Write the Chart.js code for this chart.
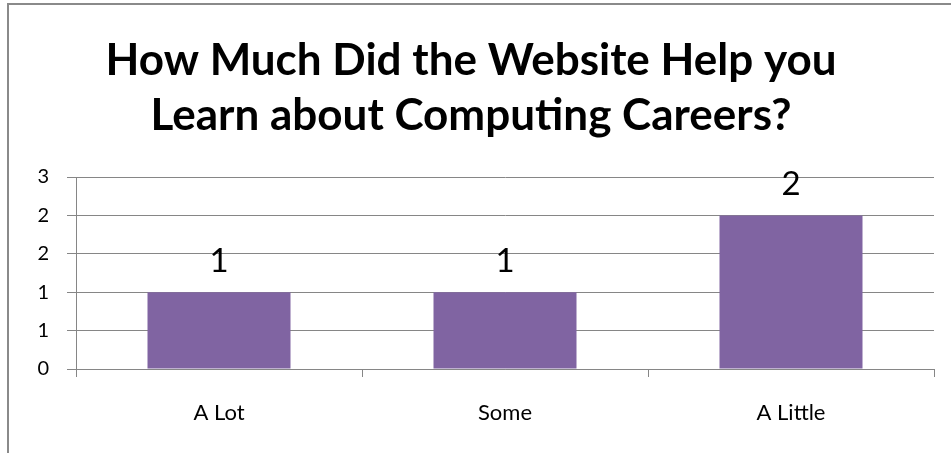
<!DOCTYPE html>
<html>
<head>
<meta charset="utf-8">
<script src="https://cdn.jsdelivr.net/npm/chart.js@4.4.1/dist/chart.umd.min.js"></script>
<style>
    html, body { margin: 0; padding: 0; background: #fff; overflow: hidden; }
    #wrap { position: relative; width: 951px; height: 453px; }
    #frame { position: absolute; left: 7px; top: 3px; width: 960px; height: 470px; border: 2px solid #8a8a8a; box-sizing: border-box; }
    canvas { position: absolute; left: 0; top: 0; }
</style>
</head>
<body>
<div id="wrap">
    <div id="frame"></div>
    <canvas id="myChart" width="951" height="453"></canvas>
</div>
<script>
    "use strict";

    const titleLines = ['How Much Did the Website Help you', 'Learn about Computing Careers?'];
    const categories = ['A Lot', 'Some', 'A Little'];
    const responses = [1, 1, 2];
    const barColor = '#8064A2';

    // draws the value on top of each bar, like Excel data labels
    const valueLabels = {
        id: 'valueLabels',
        afterDatasetsDraw(chart) {
            const ctx = chart.ctx;
            const meta = chart.getDatasetMeta(0);
            ctx.save();
            ctx.font = '33px Lato';
            ctx.fillStyle = '#000';
            ctx.textAlign = 'center';
            ctx.textBaseline = 'middle';
            meta.data.forEach((bar, i) => {
                ctx.fillText(String(responses[i]), bar.x, bar.y - 31);
            });
            ctx.restore();
        }
    };

    const ctx = document.getElementById('myChart').getContext('2d');
    const chart = new Chart(ctx, {
        type: 'bar',
        data: {
            labels: categories,
            datasets: [{
                data: responses,
                backgroundColor: barColor,
                barPercentage: 0.5,
                categoryPercentage: 1.0
            }]
        },
        options: {
            responsive: false,
            animation: false,
            layout: { padding: { left: 8, right: 17, top: 0, bottom: 0 } },
            plugins: {
                legend: { display: false },
                tooltip: { enabled: false },
                title: {
                    display: true,
                    text: titleLines,
                    color: '#000',
                    font: { family: 'Lato', size: 44, weight: 'bold', lineHeight: 1.25 },
                    padding: { top: 33, bottom: 34 }
                }
            },
            scales: {
                x: {
                    grid: { color: '#868686', drawOnChartArea: false, tickLength: 8, offset: true },
                    border: { color: '#868686' },
                    ticks: { color: '#000', font: { family: 'Lato', size: 22 }, padding: 23 },
                    afterFit(scale) { scale.height = 84; }
                },
                y: {
                    min: 0,
                    max: 2.5,
                    grid: { color: '#868686', tickLength: 9 },
                    border: { color: '#868686' },
                    ticks: {
                        stepSize: 0.5,
                        color: '#000',
                        font: { family: 'Lato', size: 20 },
                        padding: 18,
                        callback: v => Math.round(v)
                    },
                    afterFit(scale) { scale.width = 68; }
                }
            }
        },
        plugins: [valueLabels]
    });
</script>
</body>
</html>
